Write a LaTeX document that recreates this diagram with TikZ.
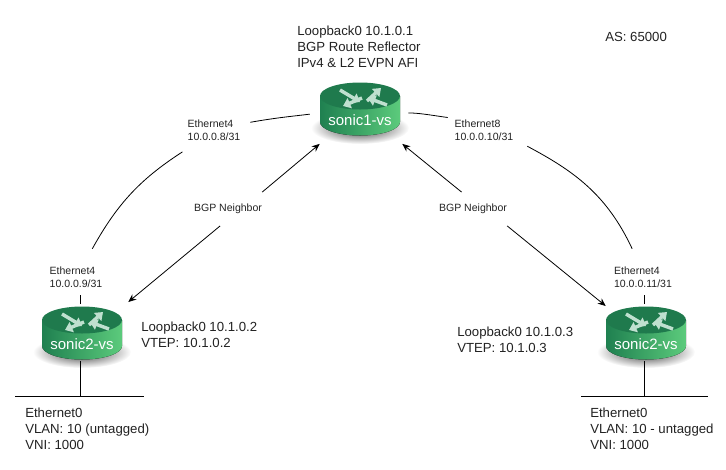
\documentclass[tikz,border=0pt]{standalone}
\usepackage{fontspec}
\setmainfont{Liberation Sans}
\usetikzlibrary{arrows.meta,positioning,calc}
\definecolor{routertop}{HTML}{1F7A4D}
\definecolor{routerdark}{HTML}{1F8050}
\definecolor{routerlight}{HTML}{5CCB7C}
\definecolor{routerarrow}{HTML}{BFE0CF}
\definecolor{inktext}{HTML}{222222}
\newcommand{\routericon}[3]{%
  \begin{scope}[shift={(#1)}]
    \shade[inner color=black!80,outer color=white] (0,46) ellipse (49 and 16);
    \fill[left color=routerdark,right color=routerlight] (-40,14) -- (-40,40) arc[start angle=180,end angle=0,x radius=40,y radius=13.5] -- (40,14) -- cycle;
    \fill[routertop] (0,14) ellipse (40 and 13.5);
    \draw[turn] (-20,8) -- (0,20);
    \draw[turn] (7,19) -- (21,6);
    \draw[turn] (2,16) -- (-17,24);
    \draw[turn] (27,23) -- (8,16);
  \end{scope}
  \node[routerbox] (#2) at (#1) {\raisebox{-9.4pt}[0pt][0pt]{#3}};}
\begin{document}
\begin{tikzpicture}[x=0.75pt,y=-0.75pt,
    routerbox/.style={minimum width=60pt,minimum height=46pt,inner sep=0pt,text=white,font=\fontsize{11.25}{13}\selectfont,anchor=north},
    turn/.style={routerarrow,line width=2.6pt,-{Triangle[length=5.5pt,width=8pt]}},
    bigtext/.style={align=left,text=inktext,inner sep=0pt,anchor=north west,font=\fontsize{9.9}{11.7}\selectfont},
    smalltext/.style={align=left,text=inktext,inner sep=0pt,minimum width=54pt,font=\fontsize{7.9}{9.8}\selectfont},
    neighbor/.style={smalltext,minimum width=0pt,minimum height=25pt},
    link/.style={black,line width=0.6pt},
    arr/.style={link,-{Stealth[length=6pt,width=5pt]}}
]
\useasboundingbox (0,0) rectangle (726,469);

\routericon{360,82}{sonic1}{sonic1-vs}
\routericon{82,306}{sonic2l}{sonic2-vs}
\routericon{646,306}{sonic2r}{sonic2-vs}

\node[bigtext] (rr) at (297,26) {Loopback0 10.1.0.1\\BGP Route Reflector\\IPv4 \& L2 EVPN AFI};
\node[bigtext] (as) at (605,32) {AS: 65000};
\node[bigtext] (lo2) at (141,322) {Loopback0 10.1.0.2\\VTEP: 10.1.0.2};
\node[bigtext] (lo3) at (457,327) {Loopback0 10.1.0.3\\VTEP: 10.1.0.3};
\node[bigtext] (vl2) at (25,408) {Ethernet0\\VLAN: 10 (untagged)\\VNI: 1000};
\node[bigtext] (vl3) at (590,408) {Ethernet0\\VLAN: 10 - untagged\\VNI: 1000};

\node[smalltext,minimum height=28pt] (if1l) at (214,130) {Ethernet4\\10.0.0.8/31};
\node[smalltext,minimum height=28pt] (if1r) at (484,130) {Ethernet8\\10.0.0.10/31};
\node[smalltext,minimum height=42pt] (if2l) at (76,277) {Ethernet4\\10.0.0.9/31};
\node[smalltext,minimum height=42pt] (if2r) at (643,277) {Ethernet4\\10.0.0.11/31};
\node[neighbor] (bgpl) at (228,209) {BGP Neighbor};
\node[neighbor] (bgpr) at (473,209) {BGP Neighbor};

\coordinate (busl) at (80,396);
\coordinate (busla) at (15,396);
\coordinate (buslb) at (144,396);
\coordinate (busr) at (644,396);
\coordinate (busra) at (581,396);
\coordinate (busrb) at (708,396);

% peer links
\draw[link,shorten <=7.5pt] (sonic1.west) to[out=187,in=10] (if1l.12);
\draw[link,shorten <=4pt] (if1l.215) to[out=-147,in=61] (if2l.60);
\draw[link,shorten <=6pt] (sonic1.east) to[out=0,in=172] (if1r.161);
\draw[link,shorten <=6pt] (if1r.341) to[out=-28,in=115] (if2r.111);
\draw[link,shorten <=1.5pt] (busl |- sonic2l.north) -- ++(0,-11);
\draw[link,shorten <=1.5pt] (busr |- sonic2r.north) -- ++(0,-11);

% bgp sessions
\draw[arr] (bgpl.north east) -- (sonic1.south west);
\draw[arr] (bgpl.245) -- ([shift={(6,-4)}]sonic2l.north east);
\draw[arr] (bgpr.124) -- ([shift={(2,0)}]sonic1.south east);
\draw[arr] (bgpr.south east) -- (sonic2r.north west);

% lan segments
\draw[link,shorten <=-5pt] (busl |- sonic2l.south) -- (busl);
\draw[link,shorten <=-5pt] (busr |- sonic2r.south) -- (busr);
\draw[link] (busla) -- (buslb);
\draw[link] (busra) -- (busrb);
\end{tikzpicture}
\end{document}
